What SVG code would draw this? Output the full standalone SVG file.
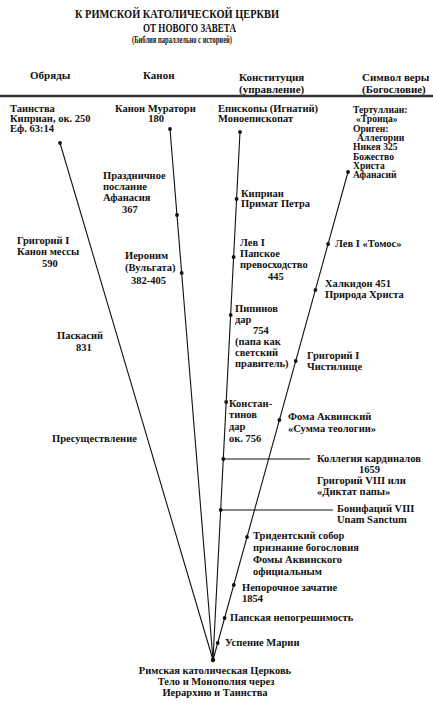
<svg xmlns="http://www.w3.org/2000/svg" width="433" height="706" viewBox="0 0 433 706">
<style>
text{font-family:"Liberation Serif","Times New Roman",serif;font-weight:bold;fill:#111;font-size:10.5px}
.t1{font-size:13.5px}
.t3{font-size:10px}
.hd{font-size:11px}
.sm{font-size:9.6px}
.c{text-anchor:middle}
.ln{stroke:#111;stroke-width:1.1;fill:none}
.dot{fill:#111}
</style>
<rect width="433" height="706" fill="#fff"/>
<g id="title">
<text class="t1" x="75" y="18" textLength="204" lengthAdjust="spacingAndGlyphs">К РИМСКОЙ КАТОЛИЧЕСКОЙ ЦЕРКВИ</text>
<text class="t1" x="143" y="32" textLength="93" lengthAdjust="spacingAndGlyphs">ОТ НОВОГО ЗАВЕТА</text>
<text class="t3" x="132" y="43" textLength="100" lengthAdjust="spacingAndGlyphs">(Библия параллельно с историей)</text>
</g>
<g id="headers">
<text class="hd" x="30" y="79">Обряды</text>
<text class="hd" x="143" y="79">Канон</text>
<text class="hd" x="239" y="81">Конституция</text>
<text class="hd" x="239" y="93">(управление)</text>
<text class="hd" x="362" y="81">Символ веры</text>
<text class="hd" x="362" y="93">(Богословие)</text>
</g>
<g id="connectors">
<line x1="0" y1="96" x2="433" y2="96" stroke="#333" stroke-width="2.5"/>
<line class="ln" x1="60" y1="143" x2="213" y2="660"/>
<line class="ln" x1="170" y1="129" x2="213" y2="660"/>
<line class="ln" x1="240" y1="132" x2="213" y2="660"/>
<line class="ln" x1="348" y1="172" x2="213" y2="660"/>
<line class="ln" x1="223.3" y1="459" x2="310" y2="459"/>
<line class="ln" x1="220.7" y1="510" x2="333" y2="510"/>
</g>
<g id="dots">
<circle class="dot" cx="60" cy="143" r="1.9"/>
<circle class="dot" cx="170" cy="129" r="1.9"/>
<circle class="dot" cx="177" cy="215" r="1.9"/>
<circle class="dot" cx="181.7" cy="273" r="1.9"/>
<circle class="dot" cx="240" cy="132" r="1.9"/>
<circle class="dot" cx="236.6" cy="199" r="1.9"/>
<circle class="dot" cx="233.6" cy="257" r="1.9"/>
<circle class="dot" cx="230.7" cy="315" r="1.9"/>
<circle class="dot" cx="226.2" cy="402" r="1.9"/>
<circle class="dot" cx="223.3" cy="459" r="1.9"/>
<circle class="dot" cx="220.7" cy="510" r="1.9"/>
<circle class="dot" cx="348" cy="172" r="1.9"/>
<circle class="dot" cx="328.1" cy="244" r="1.9"/>
<circle class="dot" cx="315.4" cy="290" r="1.9"/>
<circle class="dot" cx="295.7" cy="361" r="1.9"/>
<circle class="dot" cx="279.4" cy="420" r="1.9"/>
<circle class="dot" cx="247" cy="537" r="1.9"/>
<circle class="dot" cx="233.8" cy="585" r="1.9"/>
<circle class="dot" cx="224.6" cy="618" r="1.9"/>
<circle class="dot" cx="217.7" cy="643" r="1.9"/>
<circle class="dot" cx="213" cy="660" r="2.2"/>
</g>
<g id="rites">
<text x="10" y="112">Таинства</text>
<text x="10" y="122">Киприан, ок. 250</text>
<text x="10" y="132">Еф. 63:14</text>
<text x="17" y="244">Григорий I</text>
<text x="17" y="255">Канон мессы</text>
<text x="42" y="267">590</text>
<text x="57" y="339">Паскасий</text>
<text x="76" y="351">831</text>
<text x="52" y="442">Пресуществление</text>
</g>
<g id="canon">
<text x="115" y="112">Канон Муратори</text>
<text x="156" y="122" class="c">180</text>
<text x="103" y="179">Праздничное</text>
<text x="103" y="190">послание</text>
<text x="103" y="201">Афанасия</text>
<text x="122" y="213">367</text>
<text x="125" y="259">Иероним</text>
<text x="125" y="271">(Вульгата)</text>
<text x="131" y="284">382-405</text>
</g>
<g id="constitution">
<text x="218" y="112">Епископы (Игнатий)</text>
<text x="218" y="122">Моноепископат</text>
<text x="241" y="197">Киприан</text>
<text x="241" y="207">Примат Петра</text>
<text x="240" y="246">Лев I</text>
<text x="240" y="257">Папское</text>
<text x="240" y="268">превосходство</text>
<text x="268" y="280">445</text>
<text x="235" y="312">Пипинов</text>
<text x="235" y="323">дар</text>
<text x="253" y="334">754</text>
<text x="235" y="345">(папа как</text>
<text x="235" y="356">светский</text>
<text x="235" y="367">правитель)</text>
<text x="229" y="407">Констан-</text>
<text x="229" y="418">тинов</text>
<text x="229" y="430">дар</text>
<text x="229" y="442">ок. 756</text>
<text x="317" y="462">Коллегия кардиналов</text>
<text x="359" y="473">1659</text>
<text x="317" y="484">Григорий VIII или</text>
<text x="317" y="495">«Диктат папы»</text>
<text x="337" y="512">Бонифаций VIII</text>
<text x="337" y="523">Unam Sanctum</text>
</g>
<g id="creed">
<text class="sm" x="353" y="113">Тертуллиан:</text>
<text class="sm" x="356" y="122">«Троица»</text>
<text class="sm" x="353" y="132">Ориген:</text>
<text class="sm" x="357" y="141">Аллегории</text>
<text class="sm" x="353" y="150">Никея 325</text>
<text class="sm" x="353" y="160">Божество</text>
<text class="sm" x="353" y="169">Христа</text>
<text class="sm" x="353" y="178">Афанасий</text>
<text x="335" y="247">Лев I «Томос»</text>
<text x="325" y="287">Халкидон 451</text>
<text x="325" y="298">Природа Христа</text>
<text x="307" y="359">Григорий I</text>
<text x="307" y="370">Чистилище</text>
<text x="288" y="420">Фома Аквинский</text>
<text x="288" y="432">«Сумма теологии»</text>
<text x="253" y="539">Тридентский собор</text>
<text x="253" y="551">признание богословия</text>
<text x="253" y="563">Фомы Аквинского</text>
<text x="253" y="575">официальным</text>
<text x="242" y="591">Непорочное зачатие</text>
<text x="242" y="602">1854</text>
<text x="230" y="621">Папская непогрешимость</text>
<text x="225" y="646">Успение Марии</text>
</g>
<g id="result">
<text class="c" x="215" y="674">Римская католическая Церковь</text>
<text class="c" x="216" y="685">Тело и Монополия через</text>
<text class="c" x="215" y="696">Иерархию и Таинства</text>
</g>
</svg>
